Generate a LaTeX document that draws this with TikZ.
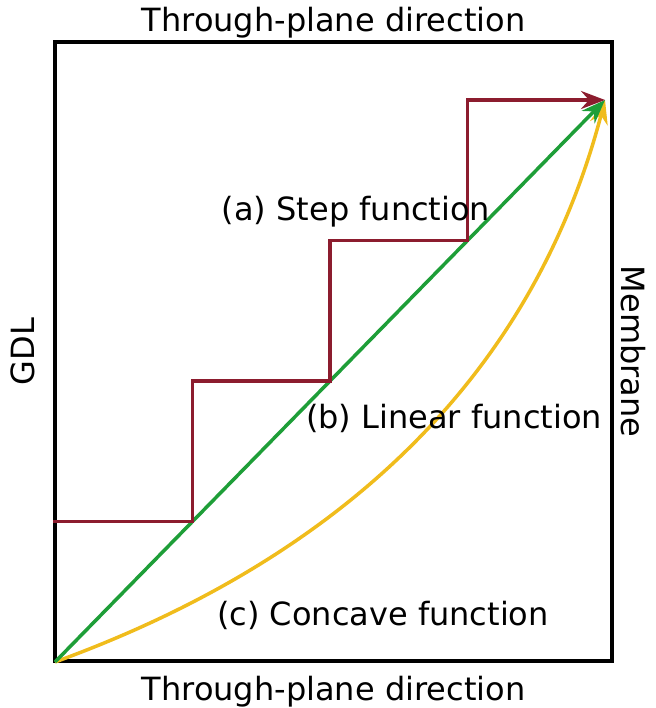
\documentclass[tikz,border=0pt]{standalone}
\usepackage{fontspec}
\setmainfont{DejaVu Sans}
\usetikzlibrary{arrows.meta,positioning}
\definecolor{cstep}{HTML}{8C1C2E}
\definecolor{clin}{HTML}{1E9E38}
\definecolor{cconc}{HTML}{F0BC1C}

\begin{document}
\begin{tikzpicture}[x=1pt, y=1pt,
    lab/.style={inner sep=1pt, font=\fontsize{32}{36}\selectfont, text=black},
    fn/.style={-{Stealth[length=24pt, width=18pt, inset=8pt]}, line width=3.5pt}]
  \useasboundingbox (0,0) rectangle (655,708);
  \node[draw, line width=4pt, minimum width=557pt, minimum height=619pt, anchor=south west,
        inner sep=0pt] (box) at (53,45) {};
  \coordinate (O) at (55,46);
  \coordinate (E) at (605,608);
  \coordinate (s1) at (192.5,186.5);
  \coordinate (s2) at (330,327);
  \coordinate (s3) at (467.5,467.5);

  \node[lab, above=1pt of box.north] (top) {Through-plane direction};
  \node[lab, below=12pt of box.south] (bot) {Through-plane direction};
  \node[lab, rotate=90, left=17pt of box.west, anchor=south] (gdl) {GDL};
  \node[lab, rotate=-90, right=6pt of box.east, anchor=south] (mem) {Membrane};

  % the three profiles
  \draw[fn, cconc] (O) .. controls (352,154) and (535,341) .. (E);
  \draw[fn, clin] (O) -- (E);
  \draw[fn, cstep] (box.west |- s1) -- (s1) |- (s2) |- (s3) |- (E);

  \node[lab] (la) at (356,496) {(a) Step function};
  \node[lab] (lb) at (454,290) {(b) Linear function};
  \node[lab] (lc) at (383,93) {(c) Concave function};
\end{tikzpicture}
\end{document}
